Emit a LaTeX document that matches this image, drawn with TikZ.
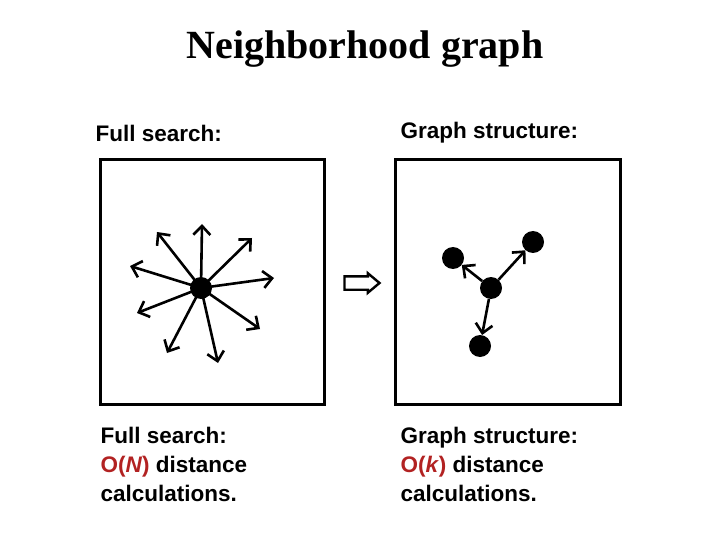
\documentclass[tikz,border=0pt]{standalone}
\usepackage{fontspec}
\setmainfont{Liberation Sans}
\newfontfamily\titlefont{Liberation Serif}
\usetikzlibrary{arrows.meta,shapes.arrows,positioning}
\definecolor{ordercol}{RGB}{178,34,34}
\begin{document}
\begin{tikzpicture}[
  x=1bp, y=-1bp,
  frame/.style={draw, line width=3bp},
  dot/.style={circle, fill, inner sep=0pt, minimum size=22bp},
  ray/.style={-{Straight Barb[length=9bp,width=17bp]}, line width=2.6bp},
  head/.style={anchor=west, font=\bfseries\fontsize{22.5bp}{29bp}\selectfont},
  caption/.style={anchor=north west, align=left, font=\bfseries\fontsize{22.5bp}{29bp}\selectfont}
]
\useasboundingbox (0,0) rectangle (720,540);
\node[font=\titlefont\bfseries\fontsize{40bp}{44bp}\selectfont] (title) at (365,49) {Neighborhood graph};

% left panel: full search
\node[head] (fullhead) at (92,133) {Full search:};
\draw[frame] (100,160) rectangle (324,404);
\node[dot] (hub) at (201,288) {};
\foreach \tx/\ty [count=\i] in {202/224,157/232,252/238,274/278,130/266,137/313,167/353,218/363,260/329}
  \coordinate (t\i) at (\tx,\ty);
\foreach \i in {1,...,9}
  \draw[ray] (hub.center) -- (t\i);
\node[caption] (fullcap) at (97,424) {Full search:\\\textcolor{ordercol}{O(\textit{N})} distance\\calculations.};

% change over
\node[single arrow, draw, line width=2.4bp, inner sep=5.5bp, single arrow head extend=3bp,
      minimum height=35bp, single arrow tip angle=80] (imp) at (358,283) {};

% right panel: graph structure
\node[head] (graphhead) at (397,133) {Graph structure:};
\draw[frame] (395,160) rectangle (620,404);
\node[dot] (c) at (491,288) {};
\node[dot] (nl) at (453,258) {};
\node[dot] (nr) at (533,242) {};
\node[dot] (nb) at (480,346) {};
\draw[ray] (c) -- (nl);
\draw[ray] (c) -- (nr);
\draw[ray] (c) -- (nb);
\node[caption] (graphcap) at (397,424) {Graph structure:\\\textcolor{ordercol}{O(\textit{k})} distance\\calculations.};
\end{tikzpicture}
\end{document}
